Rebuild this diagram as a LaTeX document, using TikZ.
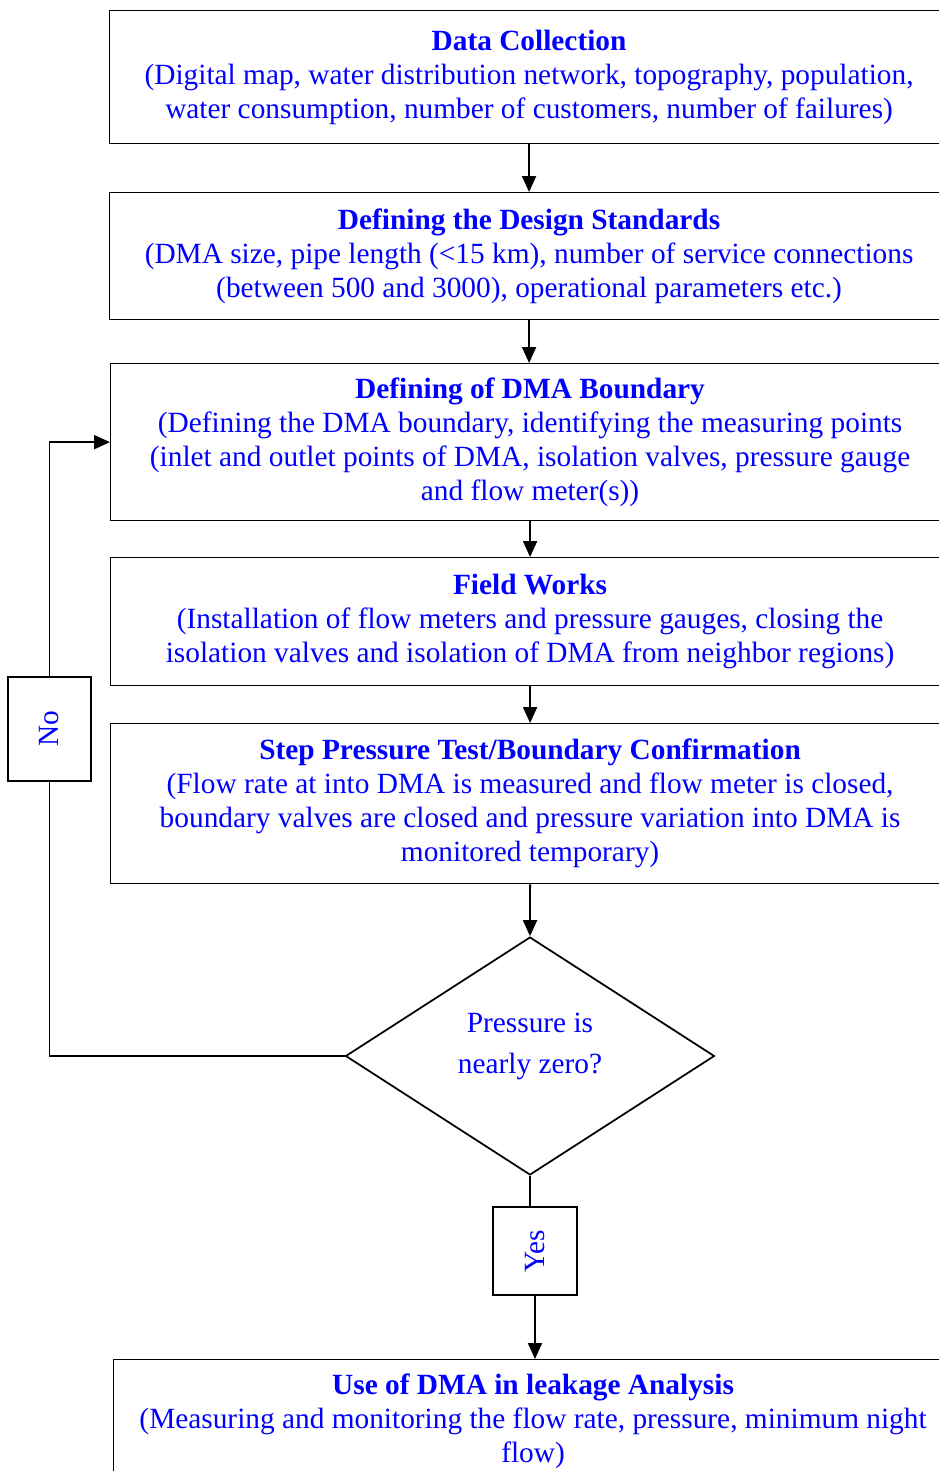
\documentclass[tikz,border=0pt]{standalone}
\usepackage{graphicx}
\usepackage{fontspec}
\setmainfont{Liberation Serif}
\usetikzlibrary{shapes.geometric,arrows.meta,positioning}
\definecolor{txtblue}{RGB}{0,0,255}

\begin{document}
\begin{tikzpicture}[x=0.02cm, y=-0.02cm,
    stepbox/.style={draw, rectangle, line width=0.75pt, anchor=north west, minimum width=16.78cm, align=center, text=txtblue, inner sep=0pt, font=\fontsize{16.7}{19.3}\selectfont},
    decision/.style={draw, diamond, line width=1pt, minimum width=7.38cm, minimum height=4.76cm, aspect=1.55, inner sep=0pt, align=center, text=txtblue, font=\fontsize{16.7}{23.3}\selectfont},
    answer/.style={draw, rectangle, line width=0.75pt, inner sep=0pt, text=txtblue, font=\fontsize{16.7}{19.3}\selectfont},
    arr/.style={line width=1.1pt, -{Triangle[length=0.32cm, width=0.28cm]}},
    link/.style={line width=1.1pt}]
    \useasboundingbox (0,0) rectangle (938,1471);
    % process steps
    \node[stepbox, minimum height=2.66cm] (collect) at (109,10) {{\bfseries Data Collection}\\(Digital map, water distribution network, topography, population,\\water consumption, number of customers, number of failures)};
    \node[stepbox, minimum height=2.54cm] (standards) at (109,192) {{\bfseries Defining the Design Standards}\\(DMA size, pipe length (<15 km), number of service connections\\(between 500 and 3000), operational parameters etc.)};
    \node[stepbox, minimum height=3.14cm] (boundary) at (110,363) {{\bfseries Defining of DMA Boundary}\\(Defining the DMA boundary, identifying the measuring points\\(inlet and outlet points of DMA, isolation valves, pressure gauge\\and flow meter(s))};
    \node[stepbox, minimum height=2.56cm] (field) at (110,557) {{\bfseries Field Works}\\(Installation of flow meters and pressure gauges, closing the\\isolation valves and isolation of DMA from neighbor regions)};
    \node[stepbox, minimum height=3.2cm] (steptest) at (110,723) {{\bfseries Step Pressure Test/Boundary Confirmation}\\(Flow rate at into DMA is measured and flow meter is closed,\\boundary valves are closed and pressure variation into DMA is\\monitored temporary)};
    \node[decision, text depth=0.5cm] (check) at (530,1056) {Pressure is\\nearly zero?};
    \node[answer, minimum width=1.68cm, minimum height=1.76cm] (yes) at (535,1251) {\rotatebox{90}{Yes}};
    \node[answer, minimum width=1.66cm, minimum height=2.08cm] (no) at (49.5,729) {\rotatebox{90}{No}};
    \node[stepbox, minimum height=2.48cm] (leakage) at (113,1359) {{\bfseries Use of DMA in leakage Analysis}\\(Measuring and monitoring the flow rate, pressure, minimum night\\flow)};
    % connectors
    \draw[arr] (collect) -- (collect |- standards.north);
    \draw[arr] (standards) -- (standards |- boundary.north);
    \draw[arr] (boundary) -- (field);
    \draw[arr] (field) -- (steptest);
    \draw[arr] (steptest) -- (check.north);
    \draw[link] (check.south) -- (check.south |- yes.north);
    \draw[arr] (yes) -- (yes |- leakage.north);
    \draw[link] (check.west) -| (no.south);
    \draw[arr] (no.north) |- (boundary.west);
\end{tikzpicture}
\end{document}
